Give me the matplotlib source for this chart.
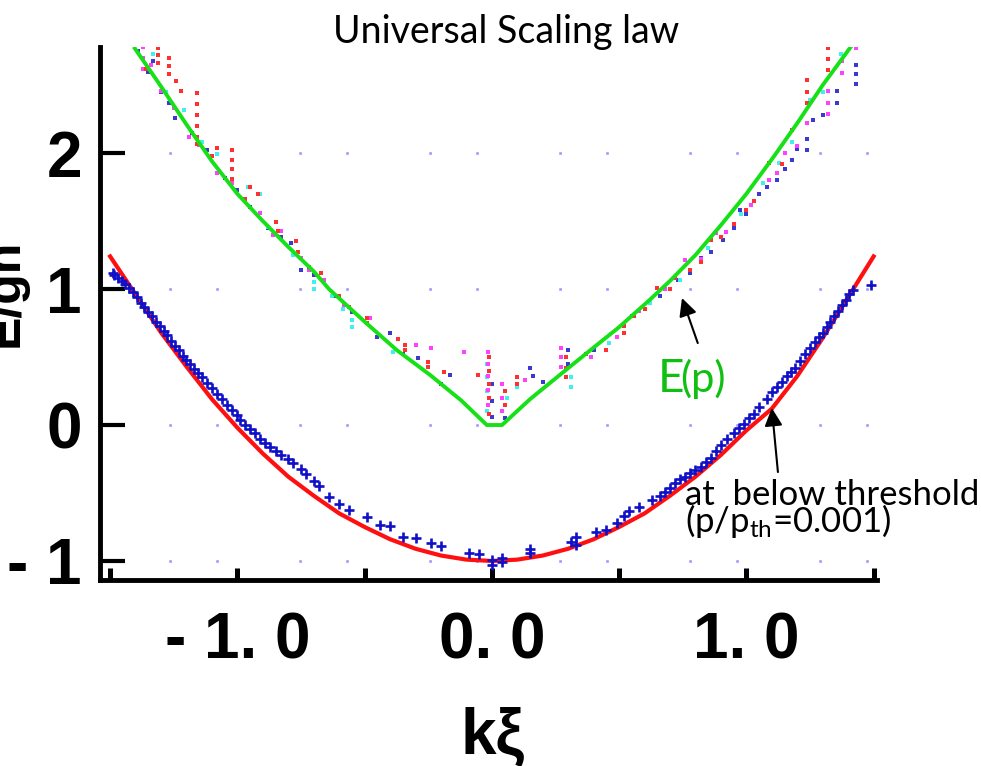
import matplotlib
matplotlib.use("Agg")
import matplotlib.pyplot as plt

plt.rcParams['font.family'] = ['Liberation Sans', 'DejaVu Sans']
plt.rcParams['lines.scale_dashes'] = False
plt.rcParams['mathtext.fontset'] = 'custom'
plt.rcParams['mathtext.rm'] = 'Lato'
plt.rcParams['mathtext.it'] = 'Lato:italic'
plt.rcParams['mathtext.bf'] = 'Lato:bold'

# ---- theory: excitation spectrum E(p) (upper branch) ----
green_k = [-1.403, -1.30, -1.20, -1.10, -1.00, -0.90, -0.80, -0.70, -0.64, -0.50,
           -0.373, -0.244, -0.12, -0.02, 0.04, 0.15, 0.268, 0.40, 0.50, 0.62,
           0.70, 0.80, 0.90, 1.00, 1.11, 1.20, 1.30, 1.41]
green_E = [2.77, 2.49, 2.21, 1.94, 1.70, 1.50, 1.31, 1.13, 1.00, 0.76,
           0.55, 0.37, 0.18, 0.00, 0.00, 0.19, 0.37, 0.57, 0.72, 0.92,
           1.06, 1.25, 1.47, 1.70, 1.98, 2.22, 2.50, 2.78]

# ---- theory: spectrum below threshold (lower branch) ----
red_k = [-1.50, -1.40, -1.30, -1.20, -1.10, -1.00, -0.90, -0.80, -0.70, -0.60,
         -0.50, -0.40, -0.30, -0.20, -0.10, 0.00, 0.10, 0.20, 0.30, 0.40,
         0.50, 0.60, 0.70, 0.80, 0.90, 1.00, 1.10, 1.20, 1.30, 1.40, 1.50]
red_E = [1.24, 0.96, 0.68, 0.43, 0.19, -0.02, -0.21, -0.38, -0.52, -0.65,
         -0.75, -0.84, -0.91, -0.96, -0.99, -1.00, -0.99, -0.96, -0.91, -0.84,
         -0.75, -0.65, -0.52, -0.38, -0.22, -0.04, 0.12, 0.36, 0.64, 0.94, 1.24]

# ---- simulation below threshold (p/p_th = 0.001) ----
sim_k = [-1.49, -1.47, -1.44, -1.41, -1.38, -1.35, -1.32, -1.29, -1.26, -1.23,
         -1.20, -1.17, -1.14, -1.10, -1.06, -1.02, -0.99, -0.95, -0.91, -0.87,
         -0.83, -0.78, -0.73, -0.68, -0.64, -0.60, -0.56, -0.49, -0.44, -0.40,
         -0.35, -0.30, -0.24, -0.20, -0.09, -0.05, 0.00, 0.00, 0.04, 0.04,
         0.15, 0.15, 0.31, 0.33, 0.33, 0.41, 0.45, 0.49, 0.52, 0.54,
         0.58, 0.63, 0.66, 0.70, 0.74, 0.78, 0.82, 0.86, 0.90, 0.95,
         0.99, 1.03, 1.08, 1.12, 1.16, 1.19, 1.23, 1.27, 1.30, 1.33,
         1.36, 1.39, 1.42, 1.49,
         -1.485, -1.455, -1.425, -1.395, -1.365, -1.335, -1.305, -1.275, -1.245, -1.215,
         -1.185, -1.155, -1.12, -1.08, -1.04, -1.00, -0.97, -0.93, -0.89, -0.85,
         -0.80, -0.75, -0.70,
         0.68, 0.72, 0.76, 0.80, 0.84, 0.88, 0.925, 0.97, 1.01, 1.05,
         1.10, 1.14, 1.175, 1.21, 1.25, 1.285, 1.315, 1.345, 1.375, 1.405]
sim_E = [1.12, 1.08, 1.04, 0.98, 0.90, 0.83, 0.76, 0.69, 0.62, 0.55,
         0.48, 0.41, 0.35, 0.27, 0.19, 0.11, 0.04, -0.03, -0.10, -0.16,
         -0.22, -0.28, -0.36, -0.45, -0.53, -0.58, -0.625, -0.68, -0.735, -0.74,
         -0.82, -0.83, -0.87, -0.89, -0.94, -0.95, -0.99, -1.03, -1.01, -0.98,
         -0.94, -0.91, -0.86, -0.82, -0.88, -0.79, -0.77, -0.72, -0.67, -0.63,
         -0.60, -0.55, -0.52, -0.46, -0.40, -0.35, -0.31, -0.24, -0.15, -0.06,
         0.01, 0.08, 0.19, 0.28, 0.36, 0.42, 0.52, 0.61, 0.68, 0.76,
         0.84, 0.92, 0.99, 1.03,
         1.10, 1.06, 1.01, 0.94, 0.87, 0.80, 0.73, 0.66, 0.58, 0.51,
         0.45, 0.38, 0.31, 0.23, 0.15, 0.07, 0.00, -0.06, -0.13, -0.19,
         -0.25, -0.32, -0.41,
         -0.49, -0.43, -0.38, -0.33, -0.27, -0.19, -0.10, -0.02, 0.05, 0.13,
         0.24, 0.32, 0.39, 0.47, 0.57, 0.65, 0.72, 0.80, 0.88, 0.96]

# ---- simulation points along E(p), four runs ----
run_r_k = [-1.31, -1.31, -1.31, -1.27, -1.27, -1.27, -1.24, -1.22, -1.16, -1.16,
           -1.16, -1.16, -1.16, -1.16, -1.08, -1.02, -1.02, -1.02, -1.02, -0.95,
           -0.92, -0.85, -0.84, -0.77, -0.76, -0.67, -0.60, -0.49, -0.49, -0.37,
           -0.34, -0.34, -0.25, -0.25, -0.19, -0.055, -0.01, -0.01, -0.01, -0.01,
           -0.01, 0.05, 0.05, 0.10, 0.10, 0.29, 0.29, 0.29, 0.37, 0.45,
           0.52, 0.52, 0.60, 0.65, 0.70, 0.78, 0.86, 0.95, 1.03, 1.09,
           1.18, 1.24, 1.24, 1.24, 1.32, 1.32, 1.32,
           -1.36, -1.10, -0.97, -0.72, -0.56, 0.56, 0.72, 0.82, 0.90, 1.00, 1.14]
run_r_E = [2.77, 2.72, 2.66, 2.70, 2.64, 2.58, 2.53, 2.46, 2.44, 2.36,
           2.28, 2.20, 2.12, 2.07, 2.04, 2.02, 1.95, 1.88, 1.81, 1.75,
           1.70, 1.49, 1.43, 1.35, 1.27, 1.12, 0.95, 0.79, 0.75, 0.63,
           0.59, 0.55, 0.46, 0.43, 0.39, 0.37, 0.50, 0.40, 0.30, 0.20,
           0.08, 0.25, 0.15, 0.30, 0.35, 0.50, 0.42, 0.35, 0.52, 0.55,
           0.68, 0.73, 0.85, 1.01, 1.00, 1.14, 1.36, 1.48, 1.65, 1.93,
           2.17, 2.37, 2.45, 2.54, 2.61, 2.69, 2.77,
           2.62, 1.98, 1.66, 1.16, 0.87, 0.80, 1.08, 1.20, 1.38, 1.58, 1.92]

run_m_k = [-1.37, -1.37, -1.37, -1.30, -1.19, -1.08, -0.91, -0.83, -0.75, -0.66,
           -0.48, -0.30, -0.24, -0.11, -0.015, -0.015, -0.015, -0.015, -0.015, 0.04,
           0.04, 0.04, 0.13, 0.27, 0.27, 0.27, 0.39, 0.49, 0.76, 0.88,
           1.09, 1.15, 1.24, 1.32, 1.32, 1.32, 1.375, 1.375, 1.43,
           -1.34, -1.25, -1.15, -1.02, -0.86, -0.72, -0.58, 0.58, 0.68, 0.82,
           0.92, 1.02, 1.12, 1.20]
run_m_E = [2.78, 2.70, 2.62, 2.46, 2.12, 1.85, 1.56, 1.43, 1.23, 1.07,
           0.79, 0.59, 0.57, 0.54, 0.54, 0.45, 0.36, 0.26, 0.15, 0.30,
           0.20, 0.10, 0.33, 0.57, 0.50, 0.43, 0.50, 0.65, 1.21, 1.41,
           1.80, 2.00, 2.22, 2.29, 2.37, 2.46, 2.59, 2.68, 2.77,
           2.65, 2.33, 2.06, 1.78, 1.40, 1.14, 0.88, 0.84, 1.00, 1.22,
           1.42, 1.62, 1.85, 2.05]

run_c_k = [-1.33, -1.21, -1.08, -0.96, -0.91, -0.70, -0.70, -0.585, -0.55, -0.55,
           -0.39, -0.02, -0.02, -0.02, -0.02, 0.06, 0.10, 0.31, 0.31, 0.46,
           0.74, 1.065, 1.13, 1.25, 1.37,
           -1.28, -1.14, -0.88, -0.78, -0.63, 0.62, 0.85, 0.98, 1.18, 1.30]
run_c_E = [2.73, 2.32, 1.99, 1.75, 1.70, 1.05, 1.00, 0.85, 0.77, 0.72,
           0.54, 0.45, 0.35, 0.25, 0.10, 0.20, 0.28, 0.35, 0.28, 0.60,
           1.07, 1.78, 1.93, 2.39, 2.73,
           2.45, 2.08, 1.46, 1.25, 0.95, 0.90, 1.30, 1.55, 2.08, 2.45]

run_b_k = [-1.39, -1.33, -1.27, -1.245, -1.12, -1.00, -0.79, -0.75, -0.75, -0.40,
           -0.29, -0.165, 0.00, 0.00, 0.00, 0.05, 0.15, 0.16, 0.30, 0.30,
           0.73, 0.82, 0.91, 0.975, 1.05, 1.12, 1.18, 1.24, 1.24, 1.26,
           1.355, 1.355, 1.43, 1.43, 1.43,
           0.66, 0.70, 0.78, 0.86, 0.95, 1.00, 1.08, 1.15, 1.20, 1.30,
           -1.35, -1.30, -1.18, -1.05, -0.95, -0.88, -0.83, -0.70, -0.62, -0.55,
           -0.45, -0.35, -0.20, 0.20, 0.40, 0.55]
run_b_E = [2.75, 2.68, 2.37, 2.26, 2.02, 1.73, 1.34, 1.23, 1.14, 0.68,
           0.49, 0.37, 0.30, 0.18, 0.06, 0.05, 0.42, 0.36, 0.55, 0.45,
           1.07, 1.23, 1.36, 1.58, 1.70, 1.80, 1.95, 2.02, 2.10, 2.24,
           2.37, 2.46, 2.51, 2.58, 2.65,
           0.95, 1.00, 1.12, 1.27, 1.45, 1.55, 1.75, 1.88, 2.03, 2.28,
           2.60, 2.45, 2.15, 1.82, 1.60, 1.45, 1.38, 1.10, 0.95, 0.83,
           0.65, 0.52, 0.30, 0.32, 0.55, 0.80]

x_ticks = [-1.5, -1.0, -0.5, 0.0, 0.5, 1.0, 1.5]
x_labels = ['', '- 1. 0', '', '0. 0', '', '1. 0', '']
y_ticks = [-1, 0, 1, 2]
y_labels = ['- 1', '0', '1', '2']

fig = plt.figure(figsize=(9.81, 7.66), dpi=100)
ax = fig.add_axes([0.1019, 0.2428, 0.7920, 0.6958])
ax.set_xlim(-1.540, 1.513)
ax.set_ylim(-1.14, 2.78)

# sparse dotted grid rows
ax.set_axisbelow(True)
ax.grid(axis='y', color='#9c9cff', linewidth=1.9,
        linestyle=(44.1, (1.9, 31.9, 1.9, 57.9)))
for gl in ax.get_ygridlines():
    gl.set_dash_capstyle('butt')
ax.grid(axis='x', visible=False)

dot = dict(marker='s', s=7, linewidths=0, zorder=3)
ax.scatter(run_b_k, run_b_E, color='#3a3ad0', **dot)
ax.scatter(run_c_k, run_c_E, color='#40f0f0', **dot)
ax.scatter(run_m_k, run_m_E, color='#ff40ff', **dot)
ax.scatter(run_r_k, run_r_E, color='#ff3030', **dot)
ax.plot(green_k, green_E, color='#16e016', lw=2.8, zorder=4)

ax.plot(red_k, red_E, color='#ff1010', lw=3.0, zorder=4)
ax.plot(sim_k, sim_E, linestyle='none', marker='+', markersize=7.5,
        markeredgewidth=1.9, color='#1010c8', zorder=5)

# axes frame
for side in ('top', 'right'):
    ax.spines[side].set_visible(False)
for side in ('left', 'bottom'):
    ax.spines[side].set_linewidth(3.5)

ax.set_xticks(x_ticks, x_labels)
ax.set_yticks(y_ticks, y_labels)
ax.tick_params(axis='y', direction='in', length=18, width=3, pad=13,
               labelsize=46)
ax.tick_params(axis='x', direction='in', length=9, width=3.6, pad=23,
               labelsize=46)
for lab in ax.get_xticklabels() + ax.get_yticklabels():
    lab.set_fontweight('bold')

ax.set_ylabel('E/gn', fontsize=36, fontweight='bold')
ax.yaxis.set_label_coords(-0.0927, 0.5385)
ax.set_xlabel('kξ', fontsize=46, fontweight='bold')
ax.xaxis.set_label_coords(0.5058, -0.2383)

ax.set_title('Universal Scaling law', fontsize=27, family='Lato',
             x=0.5225, y=1.0076, va='baseline', pad=0)

arrow = dict(arrowstyle='-|>,head_length=0.4,head_width=0.2', color='black',
             lw=1.5, mutation_scale=27, shrinkA=0, shrinkB=0)
ax.annotate('', xy=(0.747, 0.934), xytext=(0.809, 0.603),
            arrowprops=arrow, zorder=6)
ax.annotate('', xy=(1.100, 0.125), xytext=(1.124, -0.346),
            arrowprops=arrow, zorder=6)

ax.text(0.652, 0.243, 'E', fontsize=33, family='Lato', color='#10c010',
        ha='left', va='baseline')
ax.text(0.740, 0.243, '(p)', fontsize=30, family='Lato', color='#10c010',
        ha='left', va='baseline')
ax.text(0.758, -0.588, 'at  below threshold', fontsize=25, family='Lato',
        ha='left', va='baseline')
ax.text(0.758, -0.787, r'(p/p$_{\rm th}$=0.001)', fontsize=25, family='Lato',
        ha='left', va='baseline')

fig.savefig('out.png', dpi=100)
